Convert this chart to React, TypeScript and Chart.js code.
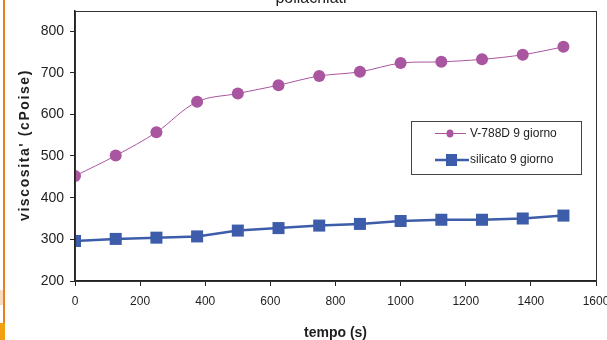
import React, { useEffect, useRef } from "react";
import { Chart, registerables } from "chart.js";

Chart.register(...registerables);

const TITLE = "poliacrilati";
const X_TITLE = "tempo (s)";
const Y_TITLE = "viscosita' (cPoise)";
const SERIES_A = "V-788D 9 giorno";
const SERIES_B = "silicato 9 giorno";

const times = [0, 125, 250, 375, 500, 625, 750, 875, 1000, 1125, 1250, 1375, 1500];
const v788d = [452, 501, 557, 630, 650, 670, 692, 702, 723, 726, 732, 743, 762];
const silicato = [296, 301, 304, 307, 321, 327, 333, 337, 344, 347, 347, 350, 357];

const X_MIN = 0;
const X_MAX = 1600;
const X_STEP = 200;
const Y_MIN = 200;
const Y_MAX = 848;
const Y_STEP = 100;

const PURPLE = "#a9559f";
const BLUE = "#3d5ca9";
const INK = "#1e1e1e";

export default function App() {
  const ref = useRef<HTMLCanvasElement | null>(null);

  useEffect(() => {
    document.body.style.margin = "0";
    const canvas = ref.current;
    if (!canvas) return;

    const framePlugin = {
      id: "frame",
      afterDraw(chart: any) {
        const { ctx, chartArea } = chart;
        ctx.save();
        // plot box
        ctx.strokeStyle = "#333";
        ctx.lineWidth = 1;
        ctx.strokeRect(
          Math.round(chartArea.left) + 0.5,
          Math.round(chartArea.top) + 0.5,
          Math.round(chartArea.right - chartArea.left),
          Math.round(chartArea.bottom - chartArea.top)
        );
        // y title
        ctx.translate(25, 145);
        ctx.rotate(-Math.PI / 2);
        ctx.font = "bold 14px 'Liberation Sans', Arial, sans-serif";
        (ctx as any).letterSpacing = "1.6px";
        ctx.fillStyle = INK;
        ctx.textAlign = "center";
        ctx.textBaseline = "middle";
        ctx.fillText(Y_TITLE, 0, 0);
        ctx.restore();

        // legend
        ctx.save();
        const lx = 411, ly = 121, lw = 170, lh = 53;
        ctx.fillStyle = "#fff";
        ctx.fillRect(lx, ly, lw, lh);
        ctx.strokeStyle = "#444";
        ctx.lineWidth = 1;
        ctx.strokeRect(lx + 0.5, ly + 0.5, lw, lh);
        ctx.font = "12px 'Liberation Sans', Arial, sans-serif";
        ctx.textBaseline = "middle";
        ctx.textAlign = "left";
        // row 1
        const y1 = 133;
        ctx.strokeStyle = PURPLE;
        ctx.lineWidth = 1;
        ctx.beginPath();
        ctx.moveTo(435, y1 + 0.5);
        ctx.lineTo(466, y1 + 0.5);
        ctx.stroke();
        ctx.fillStyle = PURPLE;
        ctx.beginPath();
        ctx.ellipse(450, y1 + 0.5, 3.5, 4, 0, 0, Math.PI * 2);
        ctx.fill();
        ctx.fillStyle = INK;
        ctx.fillText(SERIES_A, 470, y1 + 1);
        // row 2
        const y2 = 160;
        ctx.strokeStyle = BLUE;
        ctx.lineWidth = 2.5;
        ctx.beginPath();
        ctx.moveTo(435, y2);
        ctx.lineTo(469, y2);
        ctx.stroke();
        ctx.fillStyle = BLUE;
        ctx.fillRect(446, y2 - 6, 11, 12);
        ctx.fillStyle = INK;
        ctx.fillText(SERIES_B, 470, y2);
        ctx.restore();
      },
    };

    const chart = new Chart(canvas, {
      type: "line",
      data: {
        datasets: [
          {
            label: SERIES_A,
            data: times.map((t, i) => ({ x: t, y: v788d[i] })),
            borderColor: PURPLE,
            backgroundColor: PURPLE,
            borderWidth: 1,
            pointStyle: "circle",
            pointRadius: 6,
            pointBorderWidth: 0,
            tension: 0.35,
          },
          {
            label: SERIES_B,
            data: times.map((t, i) => ({ x: t, y: silicato[i] })),
            borderColor: BLUE,
            backgroundColor: BLUE,
            borderWidth: 2.5,
            pointStyle: "rect",
            pointRadius: 8.5,
            pointBorderWidth: 0,
            tension: 0,
          },
        ],
      },
      options: {
        responsive: false,
        animation: false,
        layout: { padding: { left: 0, right: 11, top: 11, bottom: 0 } },
        plugins: {
          legend: { display: false },
          title: { display: false },
          tooltip: { enabled: false },
        },
        scales: {
          x: {
            type: "linear",
            min: X_MIN,
            max: X_MAX,
            ticks: {
              stepSize: X_STEP,
              color: INK,
              padding: 8,
              maxRotation: 0,
              callback: (v: any) => String(v),
              font: { family: "'Liberation Sans', Arial", size: 12 },
            },
            grid: { drawOnChartArea: false, drawTicks: true, tickLength: 5, color: "#222", lineWidth: 1 },
            border: { color: "#222", width: 1.5 },
            title: {
              display: true,
              text: X_TITLE,
              color: INK,
              padding: { top: 0, bottom: 0 },
              font: { family: "'Liberation Sans', Arial", size: 14, weight: "bold", lineHeight: 1 },
            },
            afterFit(scale: any) {
              scale.height = 59;
              scale.paddingLeft = 0;
              scale.paddingRight = 0;
            },
          },
          y: {
            type: "linear",
            min: Y_MIN,
            max: Y_MAX,
            ticks: {
              stepSize: Y_STEP,
              color: INK,
              padding: 6,
              callback: (v: any) => String(v),
              font: { family: "'Liberation Sans', Arial", size: 14 },
            },
            afterBuildTicks(scale: any) {
              scale.ticks = scale.ticks.filter((t: any) => t.value % Y_STEP === 0);
            },
            grid: { drawOnChartArea: false, drawTicks: true, tickLength: 5, color: "#222", lineWidth: 1 },
            border: { color: "#222", width: 1.5 },
            afterFit(scale: any) {
              scale.width = 75;
              scale.paddingTop = 0;
              scale.paddingBottom = 0;
            },
          },
        },
      },
      plugins: [framePlugin],
    } as any);

    return () => chart.destroy();
  }, []);

  return (
    <div
      style={{
        position: "relative",
        width: 607,
        height: 340,
        overflow: "hidden",
        background: "#fff",
      }}
    >
      <canvas ref={ref} width={607} height={340} style={{ position: "absolute", left: 0, top: 0 }} />
      <div
        style={{
          position: "absolute",
          left: 211,
          width: 200,
          top: -11,
          textAlign: "center",
          font: "16px 'Liberation Sans', Arial, sans-serif",
          color: "#222",
          lineHeight: "18px",
        }}
      >
        {TITLE}
      </div>
      <div style={{ position: "absolute", left: 0, top: 290, width: 3, height: 15, background: "#f8dcc0" }} />
      <div style={{ position: "absolute", left: 3, top: 0, width: 2, height: 340, background: "#e8801e" }} />
      <div style={{ position: "absolute", left: 0, top: 323, width: 5, height: 17, background: "#f0a010" }} />
    </div>
  );
}
